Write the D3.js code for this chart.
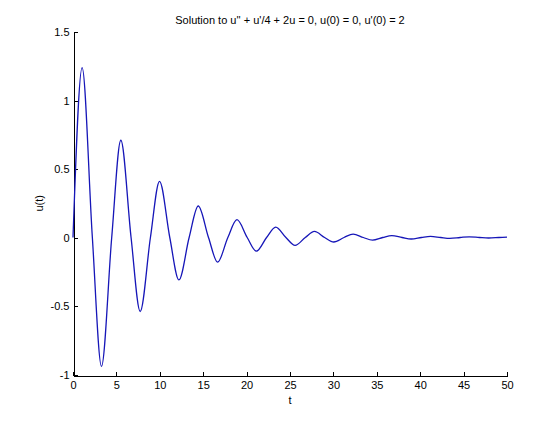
<!DOCTYPE html>
<html>
<head>
<meta charset="utf-8">
<script src="https://cdn.jsdelivr.net/npm/d3@7"></script>
<style>
  body { margin: 0; background: #fff; }
  text { font-family: "Liberation Sans", Arial, sans-serif; }
</style>
</head>
<body>
<div id="chart"></div>
<script>
// values: zero crossings and peaks of the damped wave
const tValues = [0, 1.05, 2.23, 3.28, 4.46, 5.51, 6.69, 7.74, 8.92, 9.97,
    11.15, 12.20, 13.38, 14.43, 15.61, 16.66, 17.84, 18.89, 20.07, 21.12,
    22.30, 23.35, 24.53, 25.58, 26.76, 27.81, 28.99, 30.04, 31.22, 32.27,
    33.45, 34.50, 35.68, 36.73, 37.91, 38.96, 40.14, 41.19, 42.37, 43.42,
    44.60, 45.65, 46.83, 47.88, 49.06, 50];
const uValues = [0, 1.24, 0, -0.94, 0, 0.71, 0, -0.54, 0, 0.41,
    0, -0.31, 0, 0.23, 0, -0.18, 0, 0.13, 0, -0.10,
    0, 0.076, 0, -0.058, 0, 0.044, 0, -0.033, 0, 0.025,
    0, -0.019, 0, 0.014, 0, -0.011, 0, 0.008, 0, -0.006,
    0, 0.005, 0, -0.0036, 0, 0.003];
const xTicks = [0, 5, 10, 15, 20, 25, 30, 35, 40, 45, 50];
const yTicks = [-1, -0.5, 0, 0.5, 1, 1.5];

const titleText = "Solution to u'' + u'/4 + 2u = 0, u(0) = 0, u'(0) = 2";

const width = 560, height = 421;
const margin = {top: 32, bottom: 46.5, left: 73, right: 53};

const points = tValues.map((t, i) => ({t: t, u: uValues[i]}));

const svg = d3.select("#chart")
    .append("svg")
    .attr("width", width)
    .attr("height", height)
    .style("background", "#fff");

const x = d3.scaleLinear()
    .domain([0, 50])
    .range([margin.left, width - margin.right]);
const y = d3.scaleLinear()
    .domain([-1, 1.5])
    .range([height - margin.bottom, margin.top]);

// axes with inward ticks, no box
const xAxis = svg.append("g")
    .attr("transform", `translate(0,${Math.round(height - margin.bottom) + 0.5})`)
    .call(d3.axisBottom(x).tickValues(xTicks).tickFormat(d3.format("d"))
        .tickSizeInner(-4).tickSizeOuter(0).tickPadding(6));
const yAxis = svg.append("g")
    .attr("transform", `translate(${margin.left + 0.5},0)`)
    .call(d3.axisLeft(y).tickValues(yTicks).tickFormat(d => String(d))
        .tickSizeInner(-4).tickSizeOuter(0).tickPadding(4));

[xAxis, yAxis].forEach(g => {
    g.selectAll("path, line").attr("stroke", "#000").attr("shape-rendering", "crispEdges");
    g.selectAll("text").attr("fill", "#000").style("font-size", "11px");
});

svg.append("text")
    .attr("x", (x(0) + x(50)) / 2)
    .attr("y", 24)
    .attr("text-anchor", "middle")
    .style("font-size", "11px")
    .text(titleText);

svg.append("text")
    .attr("x", (x(0) + x(50)) / 2)
    .attr("y", 404)
    .attr("text-anchor", "middle")
    .style("font-size", "11px")
    .text("t");

svg.append("text")
    .attr("transform", "rotate(-90)")
    .attr("x", -(y(-1) + y(1.5)) / 2)
    .attr("y", 43)
    .attr("text-anchor", "middle")
    .style("font-size", "11px")
    .text("u(t)");

const line = d3.line()
    .x(d => x(d.t))
    .y(d => y(d.u))
    .curve(d3.curveMonotoneX);

svg.append("path")
    .datum(points)
    .attr("fill", "none")
    .attr("stroke", "#1616b8")
    .attr("stroke-width", 1.3)
    .attr("d", line);
</script>
</body>
</html>
